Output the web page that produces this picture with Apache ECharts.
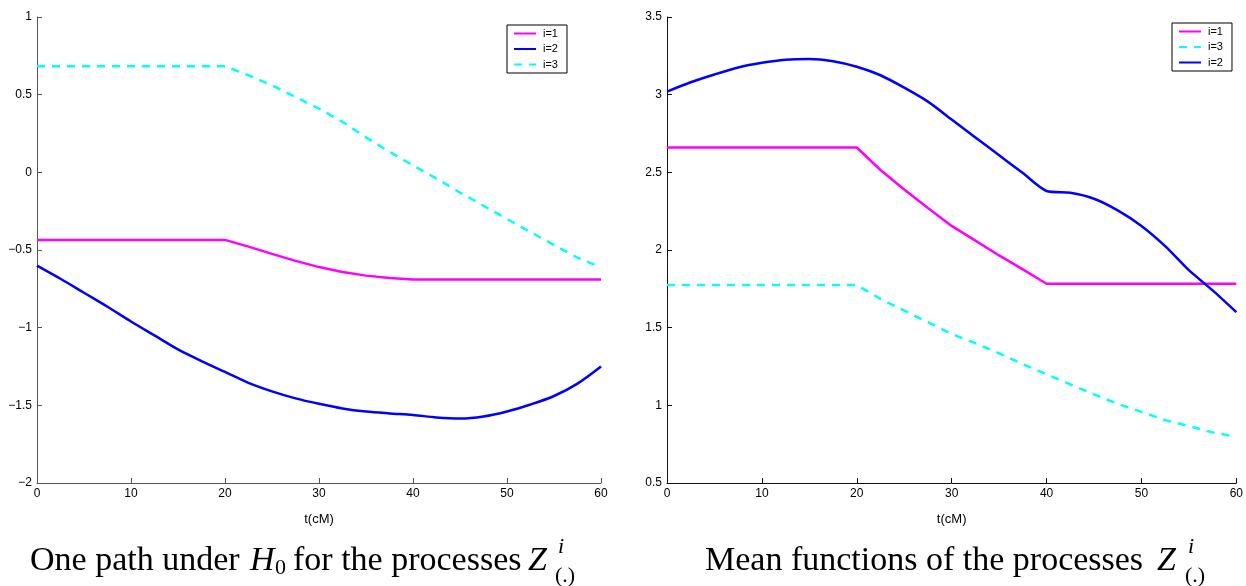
<!DOCTYPE html>
<html>
<head>
<meta charset="utf-8">
<script src="https://cdn.jsdelivr.net/npm/echarts@6/dist/echarts.min.js"></script>
<style>
html,body{margin:0;padding:0;background:#fff;}
#chart{width:1246px;height:586px;}
</style>
</head>
<body>
<div id="chart"></div>
<script>
// shared t grid (cM)
const tGrid = [0,2.5,5,7.5,10,12.5,15,17.5,20,22.5,25,27.5,30,32.5,35,37.5,40,42.5,45,47.5,50,52.5,55,57.5,60];

// Left panel: one path under H0
const pathI1 = [-0.435,-0.435,-0.435,-0.435,-0.435,-0.435,-0.435,-0.435,-0.435,-0.478,-0.525,-0.57,-0.61,-0.642,-0.665,-0.68,-0.69,-0.69,-0.69,-0.69,-0.69,-0.69,-0.69,-0.69,-0.69];
const pathI2 = [-0.60,-0.685,-0.775,-0.865,-0.96,-1.05,-1.14,-1.215,-1.285,-1.355,-1.41,-1.455,-1.49,-1.52,-1.54,-1.552,-1.562,-1.578,-1.585,-1.572,-1.54,-1.495,-1.44,-1.36,-1.25];
const pathI3 = [0.683,0.683,0.683,0.683,0.683,0.683,0.683,0.683,0.683,0.625,0.56,0.485,0.41,0.325,0.225,0.132,0.045,-0.04,-0.13,-0.215,-0.30,-0.385,-0.467,-0.55,-0.612];

// Right panel: mean functions
const meanI1 = [2.66,2.66,2.66,2.66,2.66,2.66,2.66,2.66,2.66,2.515,2.39,2.27,2.155,2.06,1.965,1.875,1.783,1.783,1.783,1.783,1.783,1.783,1.783,1.783,1.783];
const meanI2 = [3.02,3.08,3.13,3.175,3.205,3.225,3.23,3.215,3.18,3.125,3.045,2.955,2.84,2.725,2.61,2.495,2.38,2.368,2.33,2.255,2.155,2.025,1.87,1.74,1.60];
const meanI3 = [1.775,1.775,1.775,1.775,1.775,1.775,1.775,1.775,1.775,1.685,1.61,1.535,1.46,1.40,1.335,1.265,1.20,1.135,1.07,1.01,0.958,0.905,0.866,0.826,0.797];

const legendLeft = ['i=1','i=2','i=3'];
const legendRight = ['i=1','i=3','i=2'];
const xName = 't(cM)';

const C1 = '#ff00ff', C2 = '#0000ff', C3 = '#00ffff';
const pairs = (ys) => tGrid.map((t,i)=>[t,ys[i]]);
const minus = v => String(v).replace('-', '\u2212');

function xAxisCfg(g, col){
  return {gridIndex:g,type:'value',min:0,max:60,interval:10,
    name:xName,nameLocation:'middle',nameGap:30,
    nameTextStyle:{fontFamily:'Liberation Sans',fontSize:13,color:'#000'},
    axisLine:{onZero:false,lineStyle:{color:col,width:1}},
    axisTick:{inside:true,length:5,lineStyle:{color:col}},
    axisLabel:{margin:5,fontFamily:'Liberation Sans',fontSize:12,color:'#000',formatter:minus},
    splitLine:{show:false}};
}
function yAxisCfg(g, mn, mx, col){
  return {gridIndex:g,type:'value',min:mn,max:mx,interval:0.5,
    axisLine:{show:true,onZero:false,lineStyle:{color:col,width:1}},
    axisTick:{show:true,inside:true,length:5,lineStyle:{color:col}},
    axisLabel:{margin:5,fontFamily:'Liberation Sans',fontSize:12,color:'#000',formatter:minus},
    splitLine:{show:false}};
}
function line(name, g, ys, color, dashed, smooth){
  return {name:name,type:'line',xAxisIndex:g,yAxisIndex:g,data:pairs(ys),
    symbol:'none',showSymbol:false,smooth:smooth||false,
    lineStyle:{color:color,width:2.5,type:dashed?[8,7]:'solid'},
    itemStyle:{color:color}};
}
function legendCfg(data,left,top){
  return {data:data,orient:'vertical',left:left,top:top,
    itemWidth:22,itemHeight:10,itemGap:4.5,
    padding:[3,9,3,6],
    borderColor:'#000',borderWidth:1,backgroundColor:'#fff',
    itemStyle:{color:'rgba(0,0,0,0)',borderColor:'rgba(0,0,0,0)',borderWidth:0},
    textStyle:{fontFamily:'Liberation Sans',fontSize:11,color:'#000',lineHeight:11,padding:[0,0,0,2]},
    selectedMode:false};
}
const serif = '"Liberation Serif", "Times New Roman", serif';
function txt(s,x,y,size,italic){
  return {type:'text',x:x,y:y,silent:true,
    style:{text:s,fill:'#000',font:(italic?'italic ':'')+size+'px '+serif,verticalAlign:'middle',align:'left'}};
}

const chart = echarts.init(document.getElementById('chart'));
chart.setOption({
  animation:false,
  backgroundColor:'#fff',
  grid:[{left:37,right:645,top:17,bottom:103},{left:667,right:9,top:17,bottom:103}],
  xAxis:[xAxisCfg(0,'#555'),xAxisCfg(1,'#111')],
  yAxis:[yAxisCfg(0,-2,1,'#555'),yAxisCfg(1,0.5,3.5,'#111')],
  legend:[legendCfg(legendLeft,507,25),legendCfg(legendRight,1172,23)],
  series:[
    line('i=1',0,pathI1,C1,false,false),
    line('i=2',0,pathI2,C2,false,0.3),
    line('i=3',0,pathI3,C3,true,false),
    line('i=1',1,meanI1,C1,false,false),
    line('i=3',1,meanI3,C3,true,false),
    line('i=2',1,meanI2,C2,false,0.25)
  ],
  graphic:[
    txt('One path under',30,561,34,false),
    txt('H',250,561,34,true),
    txt('0',275,568,22,false),
    txt('for the processes',293,561,34,false),
    txt('Z',528,561,34,true),
    txt('i',558,547,22,true),
    txt('(.)',555,576,22,false),
    txt('Mean functions of the processes',705,561,34,false),
    txt('Z',1157,561,34,true),
    txt('i',1188,547,22,true),
    txt('(.)',1185,576,22,false)
  ]
});
</script>
</body>
</html>
